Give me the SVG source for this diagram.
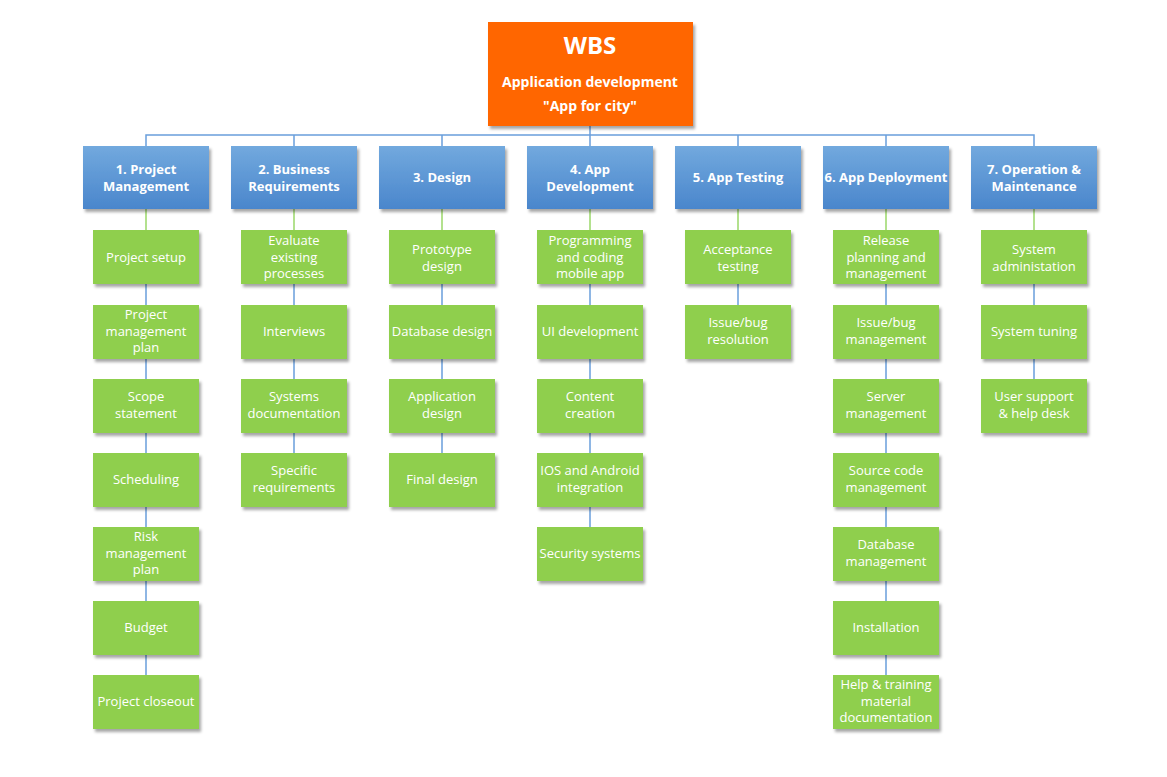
<svg xmlns="http://www.w3.org/2000/svg" width="1167" height="777" viewBox="0 0 1167 777">
<defs>
<linearGradient id="gb" x1="0" y1="0" x2="0" y2="1">
<stop offset="0" stop-color="#72A9DE"/>
<stop offset="1" stop-color="#4A86CC"/>
</linearGradient>
<filter id="sh" x="-10%" y="-10%" width="125%" height="130%">
<feDropShadow dx="2" dy="3" stdDeviation="1.5" flood-color="#000" flood-opacity="0.35"/>
</filter>
</defs>
<style>
.root{fill:#FF6600;filter:url(#sh)}
.hd{fill:url(#gb);filter:url(#sh)}
.lf{fill:#8FCF4E;filter:url(#sh)}
text{font-family:"Open Sans","Noto Sans",sans-serif;fill:#fff;text-anchor:middle}
.t{font-size:13px}
.h{font-size:13px;font-weight:bold}
.bl{stroke:#6A9FDC;stroke-width:1.5;fill:none}
.gl{stroke:#9AD86A;stroke-width:1.5;fill:none}
</style>
<rect width="1167" height="777" fill="#fff"/>
<g id="connectors">
<path class="bl" d="M590 126V135M146 146V135H1034V146M294 135V146M442 135V146M590 135V146M738 135V146M886 135V146"/>
<path class="gl" d="M146 209V230M294 209V230M442 209V230M590 209V230M738 209V230M886 209V230M1034 209V230"/>
<path class="bl" d="M146 284V305M146 359V379M146 433V453M146 507V527M146 581V601M146 655V675"/>
<path class="bl" d="M294 284V305M294 359V379M294 433V453"/>
<path class="bl" d="M442 284V305M442 359V379M442 433V453"/>
<path class="bl" d="M590 284V305M590 359V379M590 433V453M590 507V527"/>
<path class="bl" d="M738 284V305"/>
<path class="bl" d="M886 284V305M886 359V379M886 433V453M886 507V527M886 581V601M886 655V675"/>
<path class="bl" d="M1034 284V305M1034 359V379"/>
</g>
<g id="root"><rect class="root" x="488" y="22" width="205" height="104"/>
<text x="590" y="54" style="font-size:24px;font-weight:bold">WBS</text>
<text x="590" y="87" class="h" style="font-size:14px">Application development</text>
<text x="590" y="111" class="h" style="font-size:14px">"App for city"</text></g>

<g id="h1"><rect class="hd" x="83" y="146" width="126" height="63"/><text class="h" x="146" y="174">1. Project</text><text class="h" x="146" y="191">Management</text></g>
<g id="h2"><rect class="hd" x="231" y="146" width="126" height="63"/><text class="h" x="294" y="174">2. Business</text><text class="h" x="294" y="191">Requirements</text></g>
<g id="h3"><rect class="hd" x="379" y="146" width="126" height="63"/><text class="h" x="442" y="182">3. Design</text></g>
<g id="h4"><rect class="hd" x="527" y="146" width="126" height="63"/><text class="h" x="590" y="174">4. App</text><text class="h" x="590" y="191">Development</text></g>
<g id="h5"><rect class="hd" x="675" y="146" width="126" height="63"/><text class="h" x="738" y="182">5. App Testing</text></g>
<g id="h6"><rect class="hd" x="823" y="146" width="126" height="63"/><text class="h" x="886" y="182">6. App Deployment</text></g>
<g id="h7"><rect class="hd" x="971" y="146" width="126" height="63"/><text class="h" x="1034" y="174">7. Operation &amp;</text><text class="h" x="1034" y="191">Maintenance</text></g>

<g id="n1a"><rect class="lf" x="93" y="230" width="106" height="54"/><text class="t" x="146" y="262">Project setup</text></g>
<g id="n1b"><rect class="lf" x="93" y="305" width="106" height="54"/><text class="t" x="146" y="319">Project</text><text class="t" x="146" y="336">management</text><text class="t" x="146" y="352">plan</text></g>
<g id="n1c"><rect class="lf" x="93" y="379" width="106" height="54"/><text class="t" x="146" y="401">Scope</text><text class="t" x="146" y="418">statement</text></g>
<g id="n1d"><rect class="lf" x="93" y="453" width="106" height="54"/><text class="t" x="146" y="484">Scheduling</text></g>
<g id="n1e"><rect class="lf" x="93" y="527" width="106" height="54"/><text class="t" x="146" y="541">Risk</text><text class="t" x="146" y="558">management</text><text class="t" x="146" y="574">plan</text></g>
<g id="n1f"><rect class="lf" x="93" y="601" width="106" height="54"/><text class="t" x="146" y="632">Budget</text></g>
<g id="n1g"><rect class="lf" x="93" y="675" width="106" height="54"/><text class="t" x="146" y="706">Project closeout</text></g>

<g id="n2a"><rect class="lf" x="241" y="230" width="106" height="54"/><text class="t" x="294" y="245">Evaluate</text><text class="t" x="294" y="262">existing</text><text class="t" x="294" y="278">processes</text></g>
<g id="n2b"><rect class="lf" x="241" y="305" width="106" height="54"/><text class="t" x="294" y="336">Interviews</text></g>
<g id="n2c"><rect class="lf" x="241" y="379" width="106" height="54"/><text class="t" x="294" y="401">Systems</text><text class="t" x="294" y="418">documentation</text></g>
<g id="n2d"><rect class="lf" x="241" y="453" width="106" height="54"/><text class="t" x="294" y="475">Specific</text><text class="t" x="294" y="492">requirements</text></g>

<g id="n3a"><rect class="lf" x="389" y="230" width="106" height="54"/><text class="t" x="442" y="254">Prototype</text><text class="t" x="442" y="271">design</text></g>
<g id="n3b"><rect class="lf" x="389" y="305" width="106" height="54"/><text class="t" x="442" y="336">Database design</text></g>
<g id="n3c"><rect class="lf" x="389" y="379" width="106" height="54"/><text class="t" x="442" y="401">Application</text><text class="t" x="442" y="418">design</text></g>
<g id="n3d"><rect class="lf" x="389" y="453" width="106" height="54"/><text class="t" x="442" y="484">Final design</text></g>

<g id="n4a"><rect class="lf" x="537" y="230" width="106" height="54"/><text class="t" x="590" y="245">Programming</text><text class="t" x="590" y="262">and coding</text><text class="t" x="590" y="278">mobile app</text></g>
<g id="n4b"><rect class="lf" x="537" y="305" width="106" height="54"/><text class="t" x="590" y="336">UI development</text></g>
<g id="n4c"><rect class="lf" x="537" y="379" width="106" height="54"/><text class="t" x="590" y="401">Content</text><text class="t" x="590" y="418">creation</text></g>
<g id="n4d"><rect class="lf" x="537" y="453" width="106" height="54"/><text class="t" x="590" y="475">IOS and Android</text><text class="t" x="590" y="492">integration</text></g>
<g id="n4e"><rect class="lf" x="537" y="527" width="106" height="54"/><text class="t" x="590" y="558">Security systems</text></g>

<g id="n5a"><rect class="lf" x="685" y="230" width="106" height="54"/><text class="t" x="738" y="254">Acceptance</text><text class="t" x="738" y="271">testing</text></g>
<g id="n5b"><rect class="lf" x="685" y="305" width="106" height="54"/><text class="t" x="738" y="327">Issue/bug</text><text class="t" x="738" y="344">resolution</text></g>

<g id="n6a"><rect class="lf" x="833" y="230" width="106" height="54"/><text class="t" x="886" y="245">Release</text><text class="t" x="886" y="262">planning and</text><text class="t" x="886" y="278">management</text></g>
<g id="n6b"><rect class="lf" x="833" y="305" width="106" height="54"/><text class="t" x="886" y="327">Issue/bug</text><text class="t" x="886" y="344">management</text></g>
<g id="n6c"><rect class="lf" x="833" y="379" width="106" height="54"/><text class="t" x="886" y="401">Server</text><text class="t" x="886" y="418">management</text></g>
<g id="n6d"><rect class="lf" x="833" y="453" width="106" height="54"/><text class="t" x="886" y="475">Source code</text><text class="t" x="886" y="492">management</text></g>
<g id="n6e"><rect class="lf" x="833" y="527" width="106" height="54"/><text class="t" x="886" y="549">Database</text><text class="t" x="886" y="566">management</text></g>
<g id="n6f"><rect class="lf" x="833" y="601" width="106" height="54"/><text class="t" x="886" y="632">Installation</text></g>
<g id="n6g"><rect class="lf" x="833" y="675" width="106" height="54"/><text class="t" x="886" y="689">Help &amp; training</text><text class="t" x="886" y="706">material</text><text class="t" x="886" y="722">documentation</text></g>

<g id="n7a"><rect class="lf" x="981" y="230" width="106" height="54"/><text class="t" x="1034" y="254">System</text><text class="t" x="1034" y="271">administation</text></g>
<g id="n7b"><rect class="lf" x="981" y="305" width="106" height="54"/><text class="t" x="1034" y="336">System tuning</text></g>
<g id="n7c"><rect class="lf" x="981" y="379" width="106" height="54"/><text class="t" x="1034" y="401">User support</text><text class="t" x="1034" y="418">&amp; help desk</text></g>
</svg>
